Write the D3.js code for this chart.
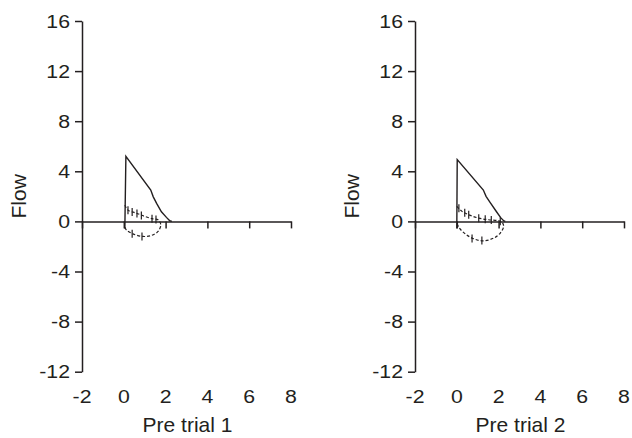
<!DOCTYPE html>
<html>
<head>
<meta charset="utf-8">
<script src="https://cdn.jsdelivr.net/npm/d3@7"></script>
<style>
  body { margin: 0; background: #fff; }
  text { font-family: "Liberation Sans", Arial, sans-serif; fill: #231f20; }
</style>
</head>
<body>
<div id="chart"></div>
<script>
const xTicks = [-2, 0, 2, 4, 6, 8];
const yTicks = [-12, -8, -4, 0, 4, 8, 12, 16];
const panelLabels = ["Pre trial 1", "Pre trial 2"];
const yLabel = "Flow";

// expiratory (solid) curves
const solid1 = [[0.05, -0.56], [0.1, 5.2], [1.29, 2.5], [1.41, 1.96], [1.57, 1.44], [1.8, 0.77], [2.04, 0.32], [2.2, 0.05], [2.3, 0]];
const solid2 = [[0.0, -0.56], [0.02, 4.94], [1.27, 2.5], [1.4, 2.0], [1.6, 1.5], [1.9, 0.77], [2.1, 0.3], [2.24, 0.05], [2.32, 0]];

// tidal (dashed) loops
const dashed1 = [[0.05, 1.3], [0.2, 0.9], [0.6, 0.66], [1.0, 0.4], [1.4, 0.2], [1.64, 0.13], [1.77, -0.27], [1.64, -0.8], [1.32, -1.12], [0.92, -1.2], [0.44, -1.0], [0.12, -0.67], [0.05, -0.43]];
const dashed2 = [[0.0, 1.2], [0.25, 0.8], [0.57, 0.53], [1.05, 0.26], [1.53, 0.13], [2.0, 0.05], [2.16, -0.06], [2.24, -0.4], [2.08, -0.93], [1.77, -1.33], [1.29, -1.55], [0.81, -1.39], [0.41, -1.0], [0.12, -0.53], [0.0, -0.14]];

// small tick marks on the tidal loops
const marks1 = [[0.2, 0.9], [0.4, 0.75], [0.63, 0.64], [0.84, 0.48], [1.35, 0.22], [1.54, 0.15], [0.4, -0.98], [0.87, -1.2]];
const marks2 = [[0.1, 1.05], [0.38, 0.7], [0.57, 0.53], [1.05, 0.26], [1.36, 0.18], [1.65, 0.11], [2.08, 0.02], [0.73, -1.37], [1.2, -1.53]];

const width = 632, height = 438;
const stretch = 1.15; // tick labels are a bit wide in the original

const svg = d3.select("#chart").append("svg")
    .attr("width", width)
    .attr("height", height);

const panels = [
    { left: 82, right: 291, label: panelLabels[0], solid: solid1, dashed: dashed1, marks: marks1 },
    { left: 415, right: 624, label: panelLabels[1], solid: solid2, dashed: dashed2, marks: marks2 }
];

const y = d3.scaleLinear().domain([-12, 16]).range([371.7, 21]);

panels.forEach(p => {
    const x = d3.scaleLinear().domain([-2, 8]).range([p.left, p.right]);
    const g = svg.append("g");

    // y axis (labels drawn separately)
    g.append("g")
        .attr("transform", `translate(${p.left},0)`)
        .call(d3.axisLeft(y).tickValues(yTicks).tickSize(7).tickSizeOuter(0).tickFormat(""));

    // x axis drawn on the zero line, labels at the bottom
    g.append("g")
        .attr("transform", `translate(0,${y(0)})`)
        .call(d3.axisBottom(x).tickValues(xTicks).tickSize(7).tickSizeOuter(0).tickFormat(""));

    g.selectAll("path.domain, .tick line")
        .attr("stroke", "#231f20")
        .attr("stroke-width", 1.5);

    g.selectAll(".ylab")
        .data(yTicks)
        .join("text")
        .attr("class", "ylab")
        .attr("transform", d => `translate(${p.left - 12},${y(d) + 6.5}) scale(${stretch},1)`)
        .attr("text-anchor", "end")
        .style("font-size", "18.5px")
        .text(d => String(d));

    g.selectAll(".xlab")
        .data(xTicks)
        .join("text")
        .attr("class", "xlab")
        .attr("transform", d => `translate(${x(d)},403) scale(${stretch},1)`)
        .attr("text-anchor", "middle")
        .style("font-size", "18.5px")
        .text(d => String(d));

    // titles
    g.append("text")
        .attr("x", (p.left + p.right) / 2 + 1)
        .attr("y", 432)
        .attr("text-anchor", "middle")
        .style("font-size", "21px")
        .text(p.label);

    g.append("text")
        .attr("transform", `translate(${p.left - 56},${(y(16) + y(-12)) / 2}) rotate(-90)`)
        .attr("text-anchor", "middle")
        .style("font-size", "21px")
        .text(yLabel);

    const line = d3.line().x(d => x(d[0])).y(d => y(d[1]));

    g.append("path")
        .datum(p.solid)
        .attr("d", line)
        .attr("fill", "none")
        .attr("stroke", "#231f20")
        .attr("stroke-width", 1.4);

    g.append("path")
        .datum(p.dashed)
        .attr("d", line.curve(d3.curveCatmullRom))
        .attr("fill", "none")
        .attr("stroke", "#231f20")
        .attr("stroke-width", 1.2)
        .attr("stroke-dasharray", "3,2");

    g.selectAll(".mark")
        .data(p.marks)
        .join("line")
        .attr("class", "mark")
        .attr("x1", d => x(d[0]))
        .attr("x2", d => x(d[0]))
        .attr("y1", d => y(d[1]) - 4)
        .attr("y2", d => y(d[1]) + 4)
        .attr("stroke", "#231f20")
        .attr("stroke-width", 1.2);
});
</script>
</body>
</html>
